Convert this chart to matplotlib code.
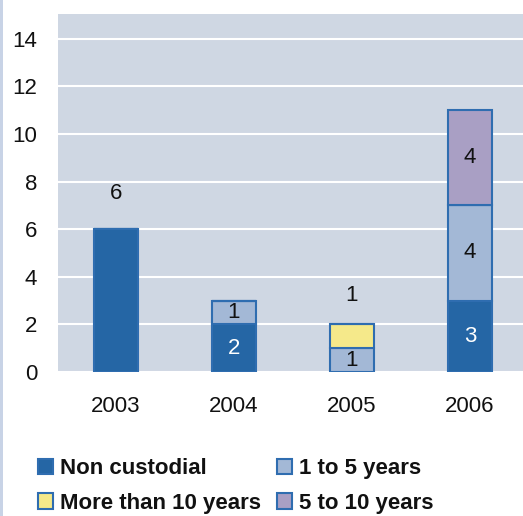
import matplotlib
matplotlib.use("Agg")
import matplotlib.pyplot as plt
from matplotlib.patches import Patch, Rectangle
import numpy as np

plt.rcParams['font.family'] = ['Liberation Sans', 'DejaVu Sans']

years = ["2003", "2004", "2005", "2006"]
non_custodial = [6, 2, 0, 3]
one_to_five = [0, 1, 1, 4]
more_than_ten = [0, 0, 1, 0]
five_to_ten = [0, 0, 0, 4]
yticks = [0, 2, 4, 6, 8, 10, 12, 14]

series = [
    ("Non custodial", non_custodial, "#2566a5", "white"),
    ("1 to 5 years", one_to_five, "#a3b8d6", "#111111"),
    ("More than 10 years", more_than_ten, "#f5e98a", "#111111"),
    ("5 to 10 years", five_to_ten, "#a99fc4", "#111111"),
]
edge = "#2f6db0"
FS = 16

W, H = 523, 516
fig = plt.figure(figsize=(W / 100, H / 100), dpi=100)
fig.patch.set_facecolor("white")
fig.patches.append(Rectangle((0, 0), 3 / W, 1, transform=fig.transFigure,
                             facecolor="#c8d3e6", edgecolor="none"))

ax = fig.add_axes([58 / W, (H - 372) / H, (W - 58) / W, (372 - 14) / H])
ax.set_facecolor("#cfd7e3")
for s in ax.spines.values():
    s.set_visible(False)

x = np.arange(len(years))
bw = 0.37
bottom = np.zeros(len(years))
handles = {}
for name, vals, col, tcol in series:
    vals = np.array(vals, dtype=float)
    ax.bar(x, vals, bw, bottom=bottom, color=col, edgecolor=edge,
           linewidth=1.5, zorder=3)
    for i, v in enumerate(vals):
        if v == 0:
            continue
        if v == 1 and name == "More than 10 years":
            ax.text(x[i], bottom[i] + v + 1.2, f"{int(v)}", ha="center",
                    va="center", fontsize=FS, color="#111111", zorder=4)
        elif name == "Non custodial" and years[i] == "2003":
            ax.text(x[i], bottom[i] + v + 1.5, f"{int(v)}", ha="center",
                    va="center", fontsize=FS, color="#111111", zorder=4)
        else:
            ax.text(x[i], bottom[i] + v / 2, f"{int(v)}", ha="center",
                    va="center", fontsize=FS, color=tcol, zorder=4)
    bottom += vals
    handles[name] = Patch(facecolor=col, edgecolor=edge, linewidth=1.5)

ax.set_xlim(-0.49, 3.45)
ax.set_ylim(0, 15.04)
ax.set_yticks(yticks)
ax.set_yticklabels([str(t) for t in yticks])
ax.set_xticks(x)
ax.set_xticklabels(years)
ax.tick_params(axis="both", length=0, labelsize=FS, colors="#111111")
ax.tick_params(axis="y", pad=15)
ax.tick_params(axis="x", pad=17)
ax.yaxis.grid(True, color="white", linewidth=1.5, zorder=1)
ax.set_axisbelow(True)

order = ["Non custodial", "More than 10 years", "1 to 5 years", "5 to 10 years"]
leg = fig.legend([handles[n] for n in order], order, ncol=2,
                 loc="upper left", bbox_to_anchor=(38 / W, 1 - 458 / H),
                 frameon=False, borderpad=0, borderaxespad=0,
                 handlelength=0.68, handleheight=0.68,
                 handletextpad=0.32, columnspacing=0.69, labelspacing=0.62,
                 prop={"weight": "bold", "size": FS})
for t in leg.get_texts():
    t.set_color("#111111")

fig.savefig("out.png", dpi=100, facecolor=fig.get_facecolor())
